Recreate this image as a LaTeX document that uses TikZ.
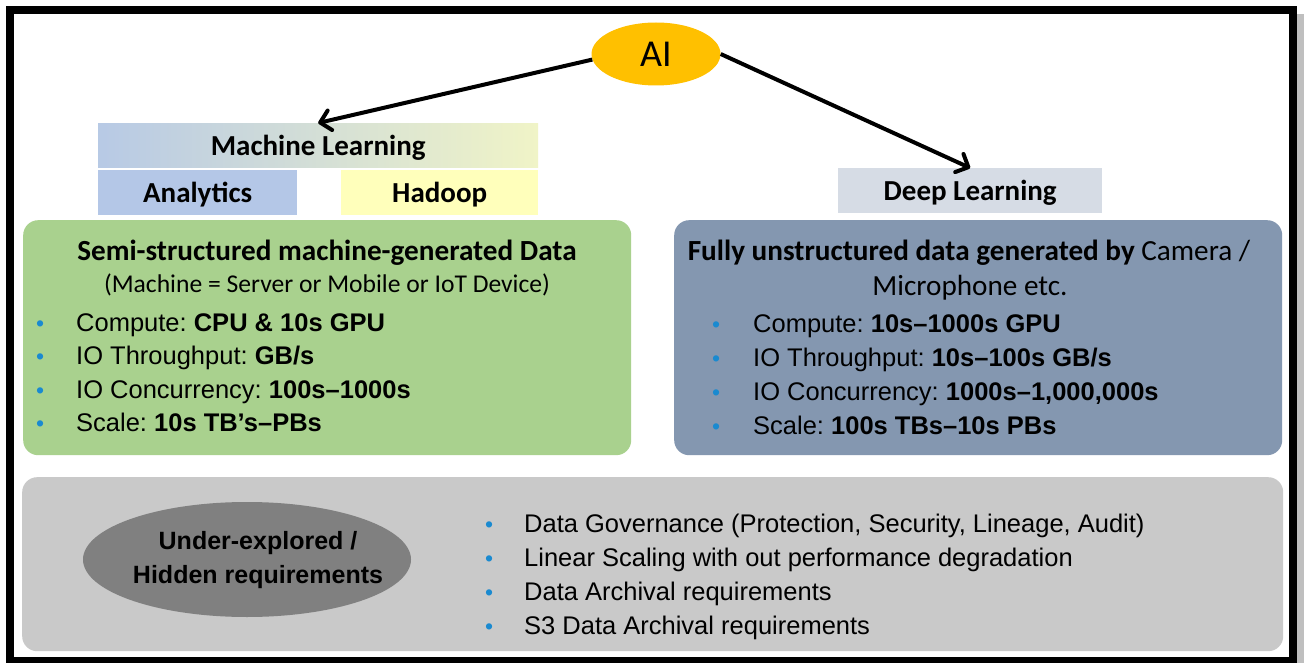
\documentclass[tikz,border=0pt]{standalone}
\usepackage{fontspec}
\setmainfont{Liberation Sans}
\newfontfamily\calfont{Carlito}
\usetikzlibrary{shapes.geometric,arrows.meta}

\definecolor{aigold}{HTML}{FFC000}
\definecolor{mlblue}{HTML}{B4C7E7}
\definecolor{mlyellow}{HTML}{FFFFBF}
\definecolor{hadoopyellow}{HTML}{FFFFBB}
\definecolor{dlgrey}{HTML}{D6DCE5}
\definecolor{panelgreen}{HTML}{A9D18E}
\definecolor{panelblue}{HTML}{8497B0}
\definecolor{panelgrey}{HTML}{C9C9C9}
\definecolor{darkoval}{HTML}{808080}
\definecolor{bulletblue}{HTML}{1A8AD0}
\definecolor{shadowgrey}{HTML}{BFBFBF}

\pgfdeclarehorizontalshading{mlshade}{100bp}{color(0bp)=(mlblue); color(22bp)=(mlblue); color(88bp)=(mlyellow); color(100bp)=(mlyellow)}

\tikzset{
  panel/.style={rectangle, rounded corners=15pt, anchor=north west, inner sep=0pt},
  tag/.style={rectangle, anchor=north west, inner sep=0pt, text depth=0pt,
              font=\calfont\bfseries\fontsize{29}{34}\selectfont},
  titletext/.style={anchor=base, inner sep=0pt, font=\calfont\fontsize{29.2}{34}\selectfont},
  subtext/.style={anchor=base, inner sep=0pt, font=\calfont\fontsize{25.6}{30}\selectfont},
  dotmark/.style={anchor=base west, inner sep=0pt, text=bulletblue, font=\fontsize{23}{26}\selectfont},
  itemtext/.style={anchor=base west, inner sep=0pt, font=\fontsize{25.5}{30}\selectfont},
  link/.style={line width=4pt, -{Straight Barb[length=10pt,width=20pt,line width=4pt,round]}},
}

\begin{document}
\frenchspacing
\begin{tikzpicture}[x=1pt,y=-1pt]
\useasboundingbox (0,0) rectangle (1304,663);
\fill[white] (0,0) rectangle (1304,663);

% outer frame with a light drop shadow on the right
\fill[shadowgrey] (1297,14) rectangle (1304,663);
\draw[line width=8pt] (10,10) rectangle (1293,661);

% root
\node[ellipse, fill=aigold, minimum width=129pt, minimum height=63pt, inner sep=0pt,
      font=\calfont\fontsize{38}{42}\selectfont] (ai) at (656,54) {AI};

% machine learning stack
\node[tag, shade, shading=mlshade, minimum width=440pt, minimum height=44pt] (ml) at (98,123) {Machine Learning};
\node[tag, fill=mlblue, minimum width=199pt, minimum height=45pt] (an) at (98,170) {Analytics};
\node[tag, fill=hadoopyellow, minimum width=197pt, minimum height=45pt] (hd) at (341,170) {Hadoop};

% deep learning
\node[tag, fill=dlgrey, minimum width=264pt, minimum height=45pt] (dl) at (838,168) {Deep Learning};

\draw[link] (ai.185) -- (ml.north);
\draw[link] (ai.east) -- (dl.north);

% panels
\node[panel, fill=panelgreen, minimum width=608pt, minimum height=235pt] (gp) at (23,220) {};
\node[panel, fill=panelblue, minimum width=608pt, minimum height=235pt] (bp) at (674,220) {};
\node[panel, fill=panelgrey, minimum width=1261pt, minimum height=174pt] (rp) at (22,477) {};

% semi-structured data
\node[titletext, font=\calfont\bfseries\fontsize{29.2}{34}\selectfont] (gt1) at (327,260) {Semi-structured machine-generated Data};
\node[subtext] (gt2) at (327,292) {(Machine = Server or Mobile or IoT Device)};
\foreach \t [count=\i] in {
  {Compute: \textbf{CPU \& 10s GPU}},
  {IO Throughput: \textbf{GB/s}},
  {IO Concurrency: \textbf{100s–1000s}},
  {Scale: \textbf{10s TB’s–PBs}}} {
  \node[dotmark] (gd\i) at (36,{331+33.5*(\i-1)}) {•};
  \node[itemtext] (gi\i) at (76,{331+33.5*(\i-1)}) {\t};
}

% unstructured data
\node[titletext] (bt1) at (969,260) {\textbf{Fully unstructured data generated by} Camera /};
\node[titletext] (bt2) at (970,295) {Microphone etc.};
\foreach \t [count=\i] in {
  {Compute: \textbf{10s–1000s GPU}},
  {IO Throughput: \textbf{10s–100s GB/s}},
  {IO Concurrency: \textbf{1000s–1,000,000s}},
  {Scale: \textbf{100s TBs–10s PBs}}} {
  \node[dotmark] (bd\i) at (712,{332+34*(\i-1)}) {•};
  \node[itemtext] (bi\i) at (753,{332+34*(\i-1)}) {\t};
}

% hidden requirements
\node[ellipse, fill=darkoval, minimum width=328pt, minimum height=115pt, inner sep=0pt] (he) at (247,559.5) {};
\node[align=center, inner sep=0pt, font=\bfseries\fontsize{25}{34}\selectfont] (ht) at (258,560) {Under-explored /\\Hidden requirements};
\foreach \t [count=\i] in {
  {Data Governance (Protection, Security, Lineage, Audit)},
  {Linear Scaling with out performance degradation},
  {Data Archival requirements},
  {S3 Data Archival requirements}} {
  \node[dotmark] (rd\i) at (485,{532+34*(\i-1)}) {•};
  \node[itemtext] (ri\i) at (524,{532+34*(\i-1)}) {\t};
}
\end{tikzpicture}
\end{document}
